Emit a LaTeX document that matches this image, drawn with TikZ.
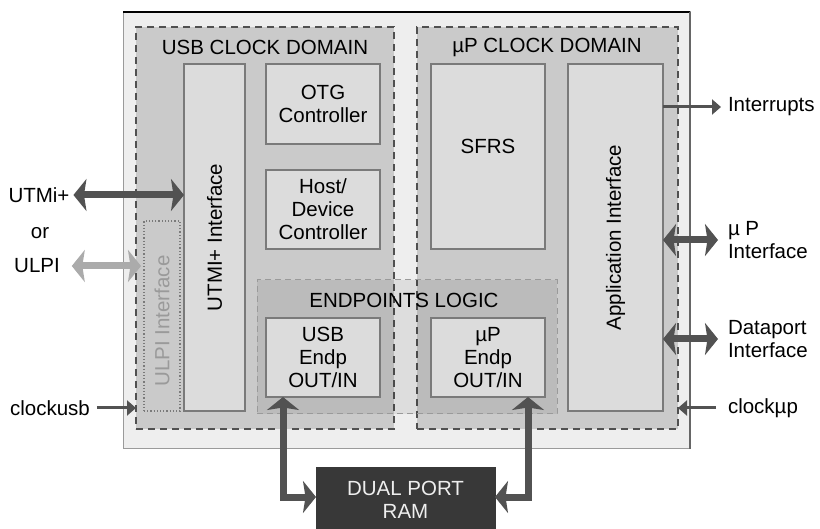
\documentclass[tikz,border=0pt]{standalone}
\usepackage{fontspec}
\setmainfont{Liberation Sans}
\usetikzlibrary{arrows.meta}
\definecolor{outerfill}{HTML}{EEEEEE}
\definecolor{outerline}{HTML}{9A9A9A}
\definecolor{domfill}{HTML}{CACACA}
\definecolor{domline}{HTML}{505050}
\definecolor{boxfill}{HTML}{DCDCDC}
\definecolor{boxline}{HTML}{7A7A7A}
\definecolor{epline}{HTML}{9A9A9A}
\definecolor{arrowdark}{HTML}{525252}
\definecolor{arrowlight}{HTML}{ABABAB}
\definecolor{ulpitext}{HTML}{9A9A9A}
\definecolor{ramfill}{HTML}{383838}
\definecolor{ramtext}{HTML}{EEEEEE}
\begin{document}
\begin{tikzpicture}[x=1pt,y=-1pt,
  every node/.style={font=\fontsize{20.5}{23}\selectfont, inner sep=0pt, outer sep=0pt},
  chipbox/.style={fill=outerfill, draw=outerline, line width=1pt},
  clkdomain/.style={draw=domline, fill=domfill, dash pattern=on 7pt off 5pt, line width=1.3pt},
  eplogic/.style={draw=epline, fill=black, fill opacity=0.07, dash pattern=on 6pt off 4pt, line width=1pt},
  blockbox/.style={draw=boxline, fill=boxfill, line width=1.2pt, align=center},
  dotbox/.style={draw=boxline, dotted, line width=1.2pt},
  ramstyle/.style={fill=ramfill, draw=ramfill, align=center, text=ramtext},
  lbl/.style={align=left},
  bigtip/.tip={Stealth[length=13pt,width=32pt,inset=2.5pt]},
  smalltip/.tip={Triangle[length=9pt,width=15pt]},
  bigarrow/.style={draw=arrowdark, line width=7pt, bigtip-bigtip},
  lightarrow/.style={draw=arrowlight, line width=7pt, bigtip-bigtip},
  thinarrow/.style={draw=arrowdark, line width=3pt, -smalltip}
]
\useasboundingbox (0,0) rectangle (820,529);

% outer chip
\node[chipbox, minimum width=567pt, minimum height=437pt] (chip) at (406.5,230.5) {};
\draw[line width=1.6pt, black] (chip.north west) -- (chip.north east);
\draw[line width=1.2pt, black!60] (chip.north east) -- (chip.south east);

% clock domains
\node[clkdomain, minimum width=258pt, minimum height=402pt] (usbdom) at (265,228) {};
\node[clkdomain, minimum width=261pt, minimum height=402pt] (updom) at (547.5,228) {};
\node (usbtitle) at (265,47) {USB CLOCK DOMAIN};
\node (uptitle) at (547,47) {µP CLOCK DOMAIN};

% endpoints logic
\node[eplogic, minimum width=300pt, minimum height=134pt] (eplog) at (407,347) {};
\node (eptitle) at (404,300) {ENDPOINTS LOGIC};

% USB domain blocks
\node[blockbox, minimum width=61pt, minimum height=347pt] (utmi) at (214.5,237.5) {};
\node[rotate=90] (utmitext) at (utmi.center) {UTMI+ Interface};
\node[dotbox, minimum width=36pt, minimum height=190pt] (ulpi) at (162,316) {};
\node[rotate=90, text=ulpitext] (ulpitxt) at (162,321) {ULPI Interface};
\node[blockbox, minimum width=114pt, minimum height=80pt] (otg) at (323,104) {OTG\\Controller};
\node[blockbox, minimum width=114pt, minimum height=79pt] (host) at (323,209.5) {Host/\\Device\\Controller};
\node[blockbox, minimum width=114pt, minimum height=79pt] (usbep) at (323,357.5) {USB\\Endp\\OUT/IN};

% uP domain blocks
\node[blockbox, minimum width=114pt, minimum height=185pt] (sfrs) at (488,156.5) {};
\node (sfrstext) at (488,146) {SFRS};
\node[blockbox, minimum width=114pt, minimum height=79pt] (upep) at (488,357.5) {µP\\Endp\\OUT/IN};
\node[blockbox, minimum width=95pt, minimum height=347pt] (app) at (615.5,237.5) {};
\node[rotate=90] (apptext) at (app.center) {Application Interface};

% RAM
\node[ramstyle, minimum width=179pt, minimum height=66pt] (ram) at (405.5,500) {DUAL PORT\\RAM};

% left labels
\node (utmilab) at (39,195) {UTMi+};
\node (orlab) at (40,233) {or};
\node (ulpilab) at (37,266) {ULPI};
\node (clkusb) at (50,408) {clockusb};

% right labels
\node[anchor=west] (intr) at (728,107) {Interrupts};
\node[anchor=west, lbl] (upint) at (728,240) {µ P\\Interface};
\node[anchor=west, lbl] (dpint) at (728,339) {Dataport\\Interface};
\node[anchor=west] (clkup) at (728,408) {clockµp};

% arrows left
\draw[bigarrow] ([xshift=4pt]utmilab.east) -- (utmilab.east -| utmi.west);
\draw[lightarrow] ([xshift=12pt]ulpilab.east) -- ([xshift=-3pt]ulpilab.east -| ulpi.west);
\draw[thinarrow] ([xshift=7pt]clkusb.east) -- (clkusb.east -| usbdom.west);

% arrows right
\draw[thinarrow] (app.east |- intr.west) -- ([xshift=-7pt]intr.west);
\draw[bigarrow] (app.east |- upint.west) -- ([xshift=-10pt]upint.west);
\draw[bigarrow] (app.east |- dpint.west) -- ([xshift=-10pt]dpint.west);
\draw[thinarrow] ([xshift=-12pt]clkup.west) -- (clkup.west -| updom.east);

% RAM connections
\draw[bigarrow] ([xshift=17pt]usbep.south west) |- ([yshift=3pt]ram.west);
\draw[bigarrow] ([xshift=-17pt]upep.south east) |- ([yshift=3pt]ram.east);
\end{tikzpicture}
\end{document}
